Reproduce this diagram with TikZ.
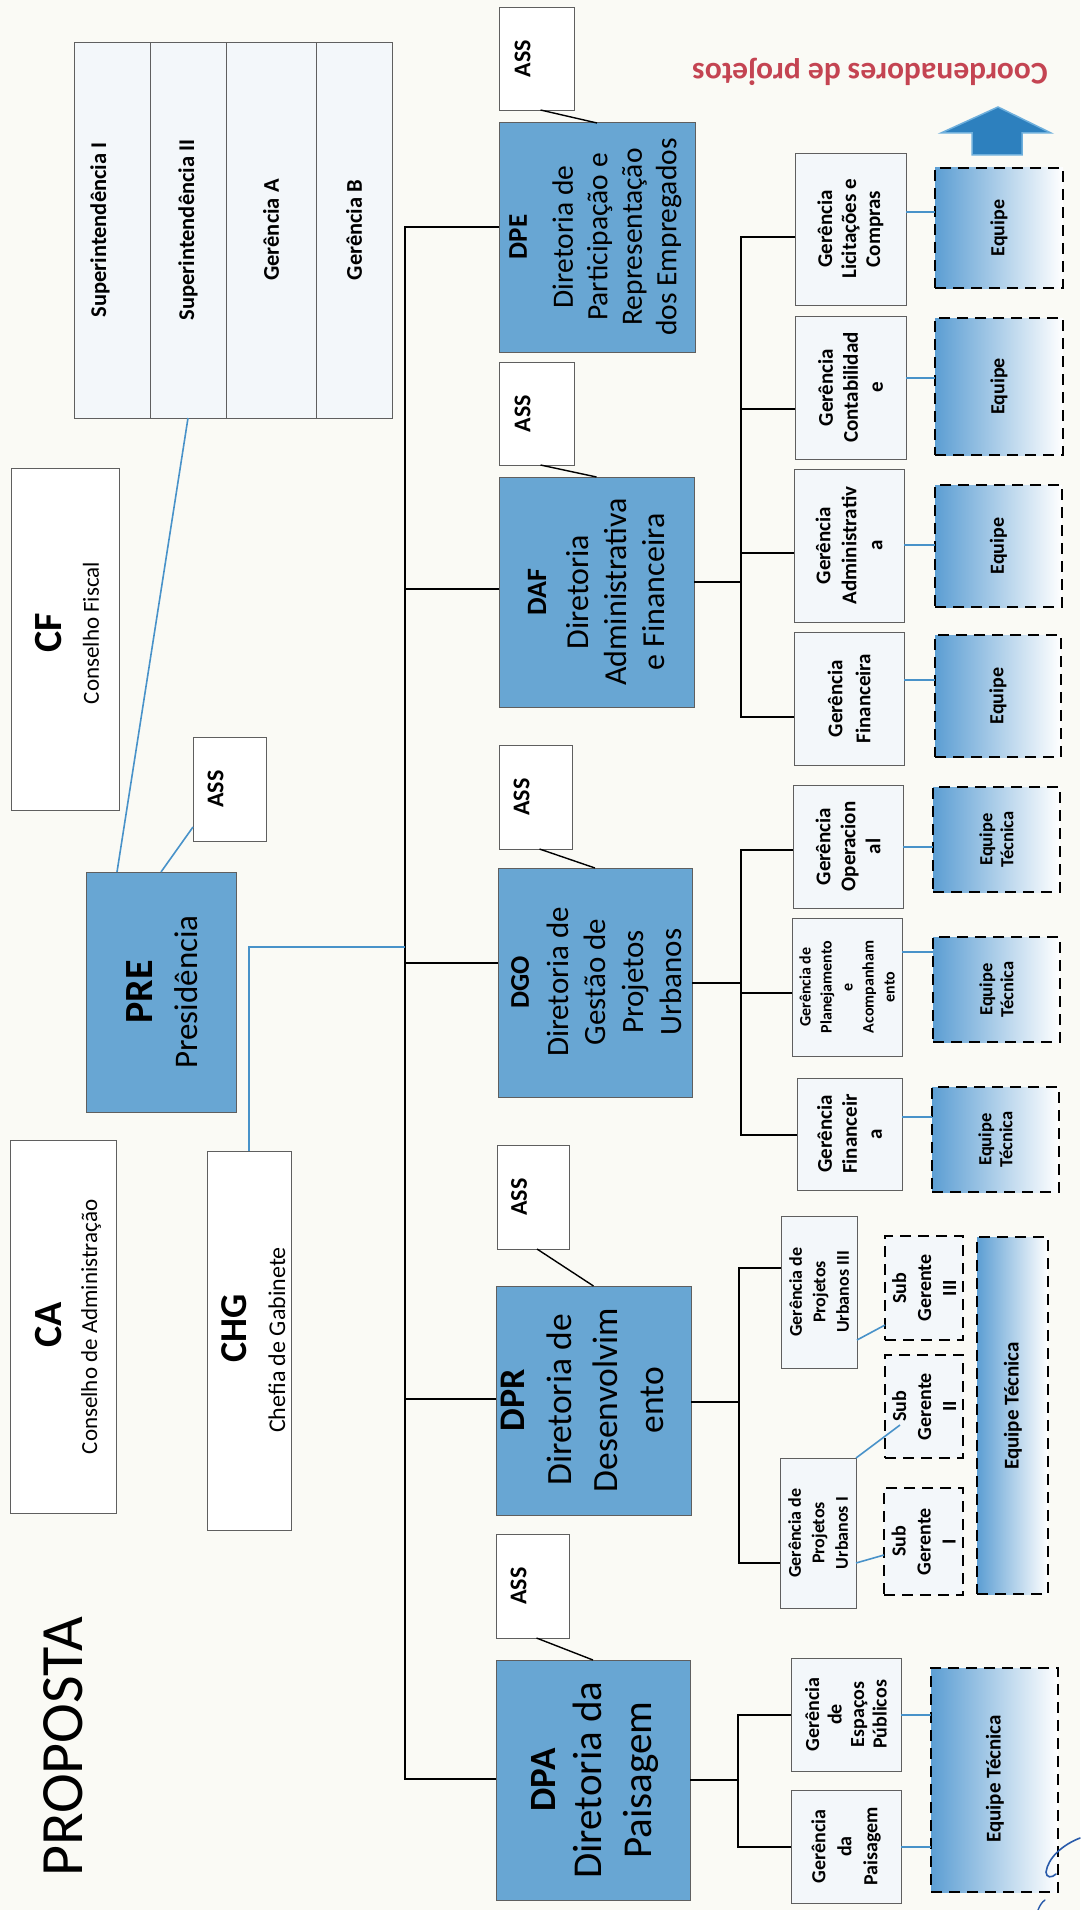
\documentclass[tikz,border=0pt]{standalone}
\usepackage{fontspec}
\setmainfont{Carlito}
\usetikzlibrary{calc}
\definecolor{bgc}{RGB}{250,250,245}
\definecolor{dirb}{RGB}{104,166,211}
\definecolor{gerf}{RGB}{243,247,250}
\definecolor{eqb}{RGB}{92,158,211}
\definecolor{lnk}{RGB}{72,146,201}
\definecolor{bord}{RGB}{95,95,95}
\definecolor{redt}{RGB}{196,68,82}
\definecolor{arrf}{RGB}{45,128,190}
\definecolor{arrd}{RGB}{110,175,220}
\definecolor{pen}{RGB}{40,90,170}
\newcommand\fsz[2]{\fontsize{#1}{#2}\selectfont}
\newcommand\mybox[6]{%
 \pgfmathsetmacro\bxw{#5-#3}\pgfmathsetmacro\bxh{#6-#4}%
 \pgfmathsetmacro\bxx{(#3+#5)/2}\pgfmathsetmacro\bxy{(#4+#6)/2}%
 \node[#1,minimum width=\bxw pt,minimum height=\bxh pt] (#2) at (\bxx,\bxy) {};}
\tikzset{
  basebox/.style={rectangle, inner sep=0pt, outer sep=0pt},
  dirbox/.style={basebox, fill=dirb, draw=bord, line width=1pt},
  whbox/.style={basebox, fill=white, draw=bord, line width=0.8pt},
  gerbox/.style={basebox, fill=gerf, draw=bord, line width=0.8pt},
  eqbox/.style={basebox, left color=eqb, right color=white, draw=black, line width=2.6pt, dash pattern=on 11pt off 7pt},
  subbox/.style={basebox, fill=gerf, draw=black, line width=2.6pt, dash pattern=on 11pt off 7pt},
  txt/.style={rotate=90, align=center, inner sep=0pt, text=black},
  blk/.style={draw=black, line width=2pt},
  thinl/.style={draw=black, line width=1.4pt},
  lnkl/.style={draw=lnk, line width=2pt},
}
\begin{document}
\begin{tikzpicture}[x=1pt,y=-1pt]
\useasboundingbox (0,0) rectangle (1080,1910);
\fill[bgc] (0,0) rectangle (1080,1910);

% title
\node[txt, font=\fsz{60}{72}] (prop) at (63,1747) {PROPOSTA};

% superintendencias
\mybox{gerbox}{sup1}{74}{42}{150}{418}
\mybox{gerbox}{sup2}{150}{42}{226}{418}
\mybox{gerbox}{sup3}{226}{42}{316}{418}
\mybox{gerbox}{sup4}{316}{42}{392}{418}
\node[txt, font=\fsz{22.5}{26}\bfseries] (sup1t) at (100,230) {Superintendência I};
\node[txt, font=\fsz{22.5}{26}\bfseries] (sup2t) at (188,230) {Superintendência II};
\node[txt, font=\fsz{22.5}{26}\bfseries] (sup3t) at (271,230) {Gerência A};
\node[txt, font=\fsz{22.5}{26}\bfseries] (sup4t) at (354,230) {Gerência B};

% councils
\mybox{whbox}{CF}{11}{468}{119}{810}
\node[txt, font=\fsz{40}{46}\bfseries] (CFh) at (49,633) {CF};
\node[txt, font=\fsz{23}{27}] (CFb) at (91,633) {Conselho Fiscal};
\mybox{whbox}{CA}{10}{1140}{116}{1513}
\node[txt, font=\fsz{40}{46}\bfseries] (CAh) at (49,1325) {CA};
\node[txt, font=\fsz{23}{27}] (CAb) at (91,1327) {Conselho de Administração};
\mybox{whbox}{CHG}{207}{1151}{291}{1530}
\node[txt, font=\fsz{38}{44}\bfseries] (CHGh) at (234,1328) {CHG};
\node[txt, font=\fsz{24}{28}] (CHGb) at (277,1340) {Chefia de Gabinete};

% presidency
\mybox{dirbox}{PRE}{86}{872}{236}{1112}
\node[txt, font=\fsz{40}{46}\bfseries] (PREh) at (140,992) {PRE};
\node[txt, font=\fsz{33}{38}] (PREb) at (186,992) {Presidência};
\mybox{whbox}{assPRE}{193}{737}{266}{841}
\node[txt, font=\fsz{24}{28}\bfseries] (assPREt) at ([xshift=-14pt]assPRE.center) {ASS};

% directors
\mybox{dirbox}{DPE}{499}{123}{695}{352}
\node[txt, font=\fsz{27}{32}\bfseries] (DPEh) at (518,237) {DPE};
\node[txt, font=\fsz{29.5}{34.5}] (DPEb) at (617,237) {Diretoria de\\Participação e\\Representação\\dos Empregados};
\mybox{dirbox}{DAF}{499}{477}{694}{707}
\node[txt, font=\fsz{28}{32}\bfseries] (DAFh) at (537,592) {DAF};
\node[txt, font=\fsz{32}{38}] (DAFb) at (616,592) {Diretoria\\Administrativa\\e Financeira};
\mybox{dirbox}{DGO}{498}{868}{692}{1097}
\node[txt, font=\fsz{27}{32}\bfseries] (DGOh) at (520,982) {DGO};
\node[txt, font=\fsz{31}{37.7}] (DGOb) at (614,982) {Diretoria de\\Gestão de\\Projetos\\Urbanos};
\mybox{dirbox}{DPR}{496}{1286}{691}{1515}
\node[txt, font=\fsz{36}{42}\bfseries] (DPRh) at (513,1400) {DPR};
\node[txt, font=\fsz{35.5}{46}] (DPRb) at (605,1400) {Diretoria de\\Desenvolvim\\ento};
\mybox{dirbox}{DPA}{496}{1660}{690}{1900}
\node[txt, font=\fsz{37}{42}\bfseries] (DPAh) at (543,1780) {DPA};
\node[txt, font=\fsz{41}{50}] (DPAb) at (616,1780) {Diretoria da\\Paisagem};

% assessorias
\mybox{whbox}{assDPE}{499}{7}{574}{110}
\mybox{whbox}{assDAF}{499}{362}{574}{465}
\mybox{whbox}{assDGO}{499}{745}{572}{849}
\mybox{whbox}{assDPR}{497}{1145}{569}{1249}
\mybox{whbox}{assDPA}{496}{1534}{569}{1638}
\node[txt, font=\fsz{24}{28}\bfseries] (assDPEt) at ([xshift=-14pt]assDPE.center) {ASS};
\node[txt, font=\fsz{24}{28}\bfseries] (assDAFt) at ([xshift=-14pt]assDAF.center) {ASS};
\node[txt, font=\fsz{24}{28}\bfseries] (assDGOt) at ([xshift=-14pt]assDGO.center) {ASS};
\node[txt, font=\fsz{24}{28}\bfseries] (assDPRt) at ([xshift=-14pt]assDPR.center) {ASS};
\node[txt, font=\fsz{24}{28}\bfseries] (assDPAt) at ([xshift=-14pt]assDPA.center) {ASS};

% gerencias
\mybox{gerbox}{gLic}{795}{153}{906}{305}
\mybox{gerbox}{gCon}{795}{316}{906}{459}
\mybox{gerbox}{gAdm}{794}{469}{904}{622}
\mybox{gerbox}{gFinA}{794}{632}{904}{765}
\mybox{gerbox}{gOp}{793}{785}{903}{908}
\mybox{gerbox}{gPlan}{792}{918}{902}{1056}
\mybox{gerbox}{gFinG}{797}{1078}{902}{1190}
\mybox{gerbox}{gPU3}{781}{1216}{857}{1368}
\mybox{gerbox}{gPU1}{780}{1458}{856}{1608}
\mybox{gerbox}{gEsp}{791}{1658}{901}{1771}
\mybox{gerbox}{gPai}{791}{1790}{901}{1903}
\node[txt, font=\fsz{21}{24}\bfseries] (gLict) at (gLic.center) {Gerência\\Licitações e\\Compras};
\node[txt, font=\fsz{21}{25}\bfseries] (gCont) at (gCon.center) {Gerência\\Contabilidad\\e};
\node[txt, font=\fsz{21}{26}\bfseries] (gAdmt) at (gAdm.center) {Gerência\\Administrativ\\a};
\node[txt, font=\fsz{21}{28}\bfseries] (gFinAt) at (gFinA.center) {Gerência\\Financeira};
\node[txt, font=\fsz{21}{25}\bfseries] (gOpt) at (gOp.center) {Gerência\\Operacion\\al};
\node[txt, font=\fsz{16}{21}\bfseries] (gPlant) at (gPlan.center) {Gerência de\\Planejamento\\e\\Acompanham\\ento};
\node[txt, font=\fsz{21}{25}\bfseries] (gFinGt) at (gFinG.center) {Gerência\\Financeir\\a};
\node[txt, font=\fsz{18}{23.5}\bfseries] (gPU3t) at (gPU3.center) {Gerência de\\Projetos\\Urbanos III};
\node[txt, font=\fsz{18}{23.5}\bfseries] (gPU1t) at (gPU1.center) {Gerência de\\Projetos\\Urbanos I};
\node[txt, font=\fsz{20}{22.5}\bfseries] (gEspt) at (gEsp.center) {Gerência\\de\\Espaços\\Públicos};
\node[txt, font=\fsz{20}{26}\bfseries] (gPait) at (gPai.center) {Gerência\\da\\Paisagem};

% equipes
\mybox{eqbox}{eq1}{935}{168}{1063}{288}
\mybox{eqbox}{eq2}{935}{318}{1063}{455}
\mybox{eqbox}{eq3}{935}{485}{1062}{607}
\mybox{eqbox}{eq4}{935}{635}{1061}{757}
\mybox{eqbox}{et1}{933}{787}{1060}{892}
\mybox{eqbox}{et2}{933}{937}{1060}{1042}
\mybox{eqbox}{et3}{932}{1087}{1059}{1192}
\mybox{subbox}{sg3}{885}{1236}{963}{1340}
\mybox{subbox}{sg2}{885}{1355}{963}{1458}
\mybox{subbox}{sg1}{884}{1488}{963}{1595}
\mybox{eqbox}{etR}{977}{1237}{1048}{1594}
\mybox{eqbox}{etA}{931}{1668}{1058}{1892}
\node[txt, font=\fsz{20}{24}\bfseries] (eq1t) at (eq1.center) {Equipe};
\node[txt, font=\fsz{20}{24}\bfseries] (eq2t) at (eq2.center) {Equipe};
\node[txt, font=\fsz{20}{24}\bfseries] (eq3t) at (eq3.center) {Equipe};
\node[txt, font=\fsz{20}{24}\bfseries] (eq4t) at (eq4.center) {Equipe};
\node[txt, font=\fsz{18.5}{21}\bfseries] (et1t) at (et1.center) {Equipe\\Técnica};
\node[txt, font=\fsz{18.5}{21}\bfseries] (et2t) at (et2.center) {Equipe\\Técnica};
\node[txt, font=\fsz{18.5}{21}\bfseries] (et3t) at (et3.center) {Equipe\\Técnica};
\node[txt, font=\fsz{20}{25}\bfseries] (sg3t) at (sg3.center) {Sub\\Gerente\\III};
\node[txt, font=\fsz{20}{25}\bfseries] (sg2t) at (sg2.center) {Sub\\Gerente\\II};
\node[txt, font=\fsz{20}{25}\bfseries] (sg1t) at (sg1.center) {Sub\\Gerente\\I};
\node[txt, font=\fsz{21}{25}\bfseries] (etRt) at (1013,1406) {Equipe Técnica};
\node[txt, font=\fsz{21}{25}\bfseries] (etAt) at (995,1779) {Equipe Técnica};

% top-right label and arrow
\node[rotate=180, inner sep=0pt, font=\fsz{31.5}{36}\bfseries, text=redt] (coord) at (870,72) {Coordenadores de projetos};
\filldraw[fill=arrf, draw=arrd, line width=1.5pt] (998,107) -- (1051,133) -- (1022,133) -- (1022,155) -- (972,155) -- (972,133) -- (941,133) -- cycle;

% trunk
\coordinate (t1) at (405,227);
\coordinate (t2) at (405,589);
\coordinate (tc) at (405,947);
\coordinate (t3) at (405,963);
\coordinate (t4) at (405,1399);
\coordinate (t5) at (405,1779);
\draw[blk] (DPE.west |- t1) -- (t1) -- (t5) -- (DPA.west |- t5);
\draw[blk] (t2) -- (DAF.west |- t2);
\draw[blk] (t3) -- (DGO.west |- t3);
\draw[blk] (t4) -- (DPR.west |- t4);
\draw[lnkl] (CHG.north) |- (tc);
\draw[lnkl, line width=1.6pt] (sup2.south) -- ($(PRE.north west)+(31,0)$);
\draw[lnkl, line width=1.6pt] ($(assPRE.south west)+(0,-14)$) -- (PRE.north);

% assessoria links
\draw[thinl] ([xshift=4pt]assDPE.south) -- (DPE.north);
\draw[thinl] ([xshift=4pt]assDAF.south) -- (DAF.north);
\draw[thinl] ([xshift=4pt]assDGO.south) -- (DGO.north);
\draw[thinl] ([xshift=4pt]assDPR.south) -- (DPR.north);
\draw[thinl] ([xshift=4pt]assDPA.south) -- (DPA.north);

% DAF branch
\coordinate (a1) at (741,237);
\coordinate (a2) at (741,409);
\coordinate (a3) at (741,553);
\coordinate (a4) at (741,717);
\coordinate (aj) at (741,582);
\draw[blk] (DAF.east |- aj) -- (aj);
\draw[blk] (gLic.west |- a1) -- (a1) -- (a4) -- (gFinA.west |- a4);
\draw[blk] (a2) -- (gCon.west |- a2);
\draw[blk] (a3) -- (gAdm.west |- a3);

% DGO branch
\coordinate (g1) at (741,850);
\coordinate (g2) at (741,993);
\coordinate (g3) at (741,1135);
\coordinate (gj) at (741,983);
\draw[blk] (DGO.east |- gj) -- (gj);
\draw[blk] (gOp.west |- g1) -- (g1) -- (g3) -- (gFinG.west |- g3);
\draw[blk] (g2) -- (gPlan.west |- g2);

% DPR branch
\coordinate (r1) at (739,1268);
\coordinate (r2) at (739,1563);
\coordinate (rj) at (739,1402);
\draw[blk] (DPR.east |- rj) -- (rj);
\draw[blk] (gPU3.west |- r1) -- (r1) -- (r2) -- (gPU1.west |- r2);

% DPA branch
\coordinate (p1) at (738,1715);
\coordinate (p2) at (738,1847);
\coordinate (pj) at (738,1780);
\draw[blk] (DPA.east |- pj) -- (pj);
\draw[blk] (gEsp.west |- p1) -- (p1) -- (p2) -- (gPai.west |- p2);

% gerencia -> equipe links
\coordinate (c1) at (0,212);
\coordinate (c2) at (0,378);
\coordinate (c3) at (0,545);
\coordinate (c4) at (0,680);
\coordinate (c5) at (0,847);
\coordinate (c6) at (0,952);
\coordinate (c7) at (0,1117);
\coordinate (c8) at (0,1715);
\coordinate (c9) at (0,1847);
\draw[lnkl] (gLic.east |- c1) -- (eq1.west |- c1);
\draw[lnkl] (gCon.east |- c2) -- (eq2.west |- c2);
\draw[lnkl] (gAdm.east |- c3) -- (eq3.west |- c3);
\draw[lnkl] (gFinA.east |- c4) -- (eq4.west |- c4);
\draw[lnkl] (gOp.east |- c5) -- (et1.west |- c5);
\draw[lnkl] (gPlan.east |- c6) -- (et2.west |- c6);
\draw[lnkl] (gFinG.east |- c7) -- (et3.west |- c7);
\draw[lnkl] (gEsp.east |- c8) -- (etA.west |- c8);
\draw[lnkl] (gPai.east |- c9) -- (etA.west |- c9);
\draw[lnkl, line width=1.6pt] ($(gPU1.south east)+(0,-45)$) -- ($(sg1.north west)+(0,67)$);
\draw[lnkl, line width=1.6pt] (gPU1.north east) -- ($(sg2.south west)+(15,-33)$);
\draw[lnkl, line width=1.6pt] ($(gPU3.south east)+(0,-28)$) -- ($(sg3.south west)+(0,-15)$);

% pen mark
\draw[pen, line width=1.6pt, line cap=round] (1080,1838) .. controls (1062,1845) and (1048,1858) .. (1046,1872) .. controls (1046,1878) and (1052,1878) .. (1056,1874);
\draw[pen, line width=1.4pt, line cap=round] (1038,1910) .. controls (1040,1905) and (1042,1902) .. (1045,1900);
\end{tikzpicture}
\end{document}
